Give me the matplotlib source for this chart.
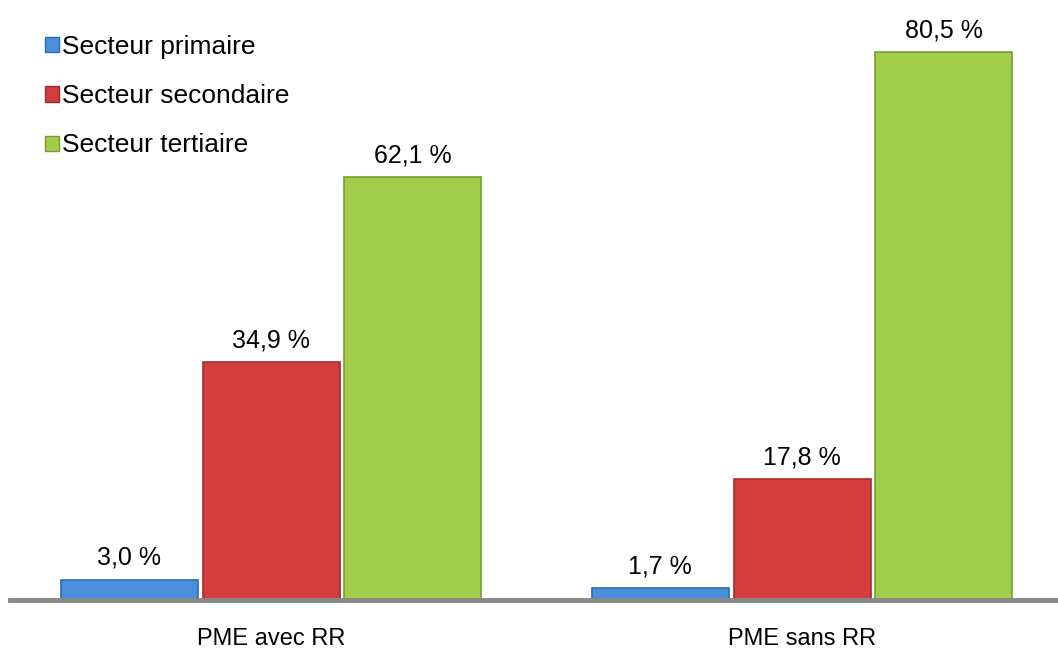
import numpy as np
import matplotlib.pyplot as plt
from matplotlib.patches import Patch

groups = ['PME avec RR', 'PME sans RR']
series = ['Secteur primaire', 'Secteur secondaire', 'Secteur tertiaire']
values = {
    'Secteur primaire': [3.0, 1.7],
    'Secteur secondaire': [34.9, 17.8],
    'Secteur tertiaire': [62.1, 80.5],
}
colors = ['#4a8fdc', '#d23c3c', '#a2cd4a']
edges = ['#2f6bb0', '#a82a2a', '#7a9e30']

plt.rcParams['font.family'] = ['Liberation Sans Narrow', 'Liberation Sans', 'DejaVu Sans']

fig = plt.figure(figsize=(10.58, 6.51), dpi=100)
ax = fig.add_axes([10 / 1058, 1 - 600 / 651, 1 - 10 / 1058, 600 / 651])

x = np.arange(len(groups))
pitch = 0.267
width = 0.258
for i, s in enumerate(series):
    pos = x + (i - 1) * pitch
    bars = ax.bar(pos, values[s], width, color=colors[i], edgecolor=edges[i],
                  linewidth=1.2, zorder=2)
    for b, v in zip(bars, values[s]):
        ax.annotate(('%.1f %%' % v).replace('.', ','),
                    (b.get_x() + b.get_width() / 2, v),
                    xytext=(0, 7), textcoords='offset points',
                    ha='center', va='bottom', fontsize=18)

ax.set_xlim(-0.492, 1.482)
ax.set_ylim(0, 88.1)
ax.axhline(0, color='#888888', lw=3.5, zorder=3, clip_on=False)
for sp in ax.spines.values():
    sp.set_visible(False)
ax.set_yticks([])
ax.set_xticks(x)
ax.set_xticklabels(groups, fontsize=17)
ax.tick_params(axis='x', length=0, pad=20)

handles = [Patch(facecolor=c, edgecolor=e) for c, e in zip(colors, edges)]
fig.legend(handles, series, loc='upper left', bbox_to_anchor=(0.033, 0.962),
           frameon=False, fontsize=19, handlelength=0.5, handleheight=0.5,
           handletextpad=0.12, labelspacing=0.95, borderaxespad=0)

plt.savefig('out.png', dpi=100)
